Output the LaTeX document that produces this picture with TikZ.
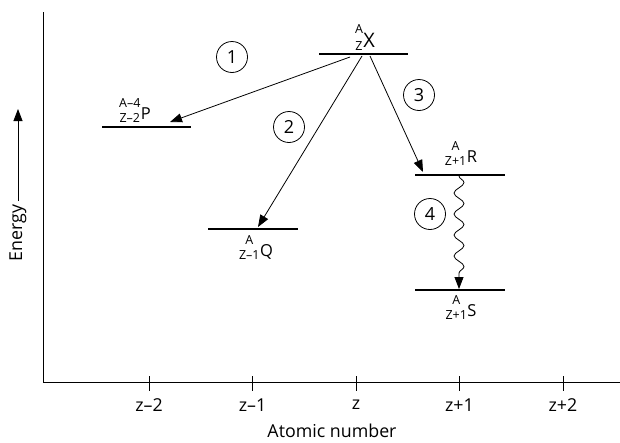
\documentclass[tikz,border=0pt]{standalone}
\usepackage{fontspec}
\setmainfont{Open Sans}
\usetikzlibrary{arrows.meta,decorations.pathmorphing}

% stacked mass and atomic numbers in front of the symbol
\newcommand{\nuclide}[4][15.5]{\raisebox{-3.5pt}{\fontsize{12.5}{#1}\selectfont\begin{tabular}[b]{@{}c@{}}#2\\#3\end{tabular}}\hspace{0.5pt}#4}

\tikzset{
  axis/.style={line width=0.8pt},
  level/.style={line width=1.5pt},
  decay/.style={line width=0.8pt,-{Triangle[length=12pt,width=9pt]}},
  stepnum/.style={draw,circle,line width=0.8pt,minimum size=31pt,inner sep=0pt,font=\fontsize{18}{20}\selectfont},
  ticklabel/.style={font=\fontsize{17.8}{20}\selectfont},
  nuc/.style={anchor=base,inner sep=0pt,font=\fontsize{16.5}{18}\selectfont},
}

\begin{document}
\begin{tikzpicture}[x=1pt,y=-1pt]
    \useasboundingbox (0,0) rectangle (620,442);

    % axes
    \draw[axis] (43,12) -- (43,382) -- (620,382);
    \foreach \xx/\lab in {149/z--2,252.5/z--1,356/z,459.5/z+1,563/z+2}{
        \draw[axis] (\xx,376) -- (\xx,391);
        \draw node[ticklabel] at (\xx,405) {\lab};
    }
    \draw node[ticklabel] (xlabel) at (332,431) {Atomic number};
    \draw node[ticklabel,rotate=90] (ylabel) at (18,233) {Energy};
    \coordinate (ytop) at (18,109);
    \draw[decay] (ylabel.east) -- (ytop);

    % energy levels
    \coordinate (Xl) at (319,54);  \coordinate (Xr) at (408,54);
    \coordinate (Pl) at (102,127); \coordinate (Pr) at (191,127);
    \coordinate (Ql) at (208,229); \coordinate (Qr) at (298,229);
    \coordinate (Rl) at (415,175); \coordinate (Rr) at (505,175);
    \coordinate (Sl) at (415,290); \coordinate (Sr) at (505,290);
    \foreach \lv in {X,P,Q,R,S}
        \draw[level] (\lv l) -- (\lv r);

    \draw node[nuc,font=\fontsize{20}{22}\selectfont] (nX) at (365,47) {\nuclide[17.5]{A}{Z}{X}};
    \draw node[nuc] (nP) at (135,119) {\nuclide{A--4}{Z--2}{P}};
    \draw node[nuc] (nQ) at (256,256) {\nuclide{A}{Z--1}{Q}};
    \draw node[nuc] (nR) at (461,162) {\nuclide{A}{Z+1}{R}};
    \draw node[nuc] (nS) at (461,316) {\nuclide{A}{Z+1}{S}};

    % decay paths
    \coordinate (x1) at (350,57); \coordinate (p1) at (170,122);
    \coordinate (x2) at (362,56); \coordinate (q1) at (258,227);
    \coordinate (x3) at (370,56); \coordinate (r1) at (423,172);
    \coordinate (r2) at (459,176); \coordinate (s1) at (459,289);
    \draw[decay] (x1) -- (p1);
    \draw[decay] (x2) -- (q1);
    \draw[decay] (x3) -- (r1);
    \draw[decay,decorate,decoration={snake,amplitude=5pt,segment length=21pt,post length=12pt}] (r2) -- (s1);

    \draw node[stepnum] (c1) at (232,57) {1};
    \draw node[stepnum] (c2) at (289,127) {2};
    \draw node[stepnum] (c3) at (419,95) {3};
    \draw node[stepnum] (c4) at (430,214) {4};
\end{tikzpicture}
\end{document}
